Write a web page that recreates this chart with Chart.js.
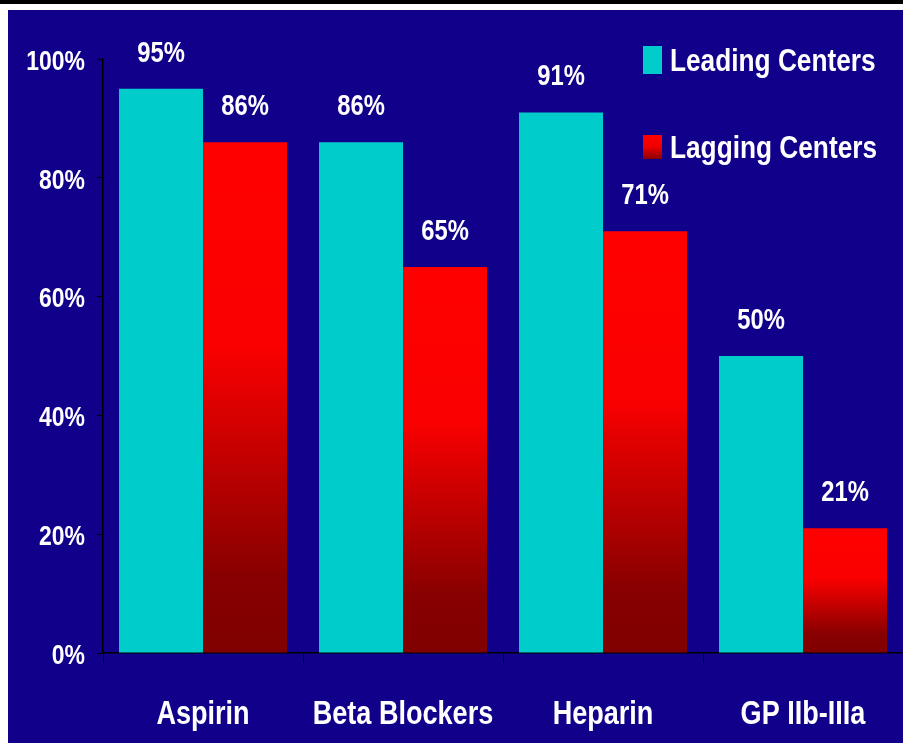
<!DOCTYPE html>
<html>
<head>
<meta charset="utf-8">
<script src="https://cdn.jsdelivr.net/npm/chart.js@4"></script>
<style>
  html, body { margin: 0; padding: 0; background: #fff; }
  body { width: 903px; height: 746px; position: relative; overflow: hidden; }
  .topbar { position: absolute; left: 0; top: 0; width: 903px; height: 4px; background: #000; }
  .wrap { position: absolute; left: 8px; top: 10px; width: 895px; height: 733px; background: #10008a; }
</style>
</head>
<body>
<div class="topbar"></div>
<div class="wrap"><canvas id="chart" width="895" height="733"></canvas></div>
<script>
const categories = ["Aspirin", "Beta Blockers", "Heparin", "GP IIb-IIIa"];
const leading = [95, 86, 91, 50];
const lagging = [86, 65, 71, 21];
const yTicks = [0, 20, 40, 60, 80, 100];

const FONT = "'Liberation Sans', Arial, sans-serif";
const SQUEEZE = 0.82; // no narrow font installed, so squeeze bold sans horizontally
const CYAN = "#00cccc";

// white bold narrow-looking text
function narrowText(ctx, text, x, y, size, align) {
  ctx.save();
  ctx.font = "bold " + size + "px " + FONT;
  ctx.fillStyle = "#fff";
  ctx.textBaseline = "middle";
  ctx.textAlign = align;
  ctx.translate(x, y);
  ctx.scale(SQUEEZE, 1);
  ctx.fillText(text, 0, 0);
  ctx.restore();
}

// red bars fade from bright red at the top to dark red at the bottom
function redFill(ctx) {
  const chart = ctx.chart;
  const y = chart.scales.y;
  if (!y || ctx.type !== "data") return "#ff0000";
  const top = y.getPixelForValue(ctx.raw);
  const bottom = y.getPixelForValue(0);
  if (!isFinite(top) || !isFinite(bottom) || top === bottom) return "#ff0000";
  const g = chart.ctx.createLinearGradient(0, top, 0, bottom);
  g.addColorStop(0, "#ff0000");
  g.addColorStop(0.4, "#fa0000");
  g.addColorStop(0.85, "#880000");
  g.addColorStop(1, "#800000");
  return g;
}

const textLayer = {
  id: "textLayer",
  afterDraw(chart) {
    const ctx = chart.ctx;
    const xs = chart.scales.x, ys = chart.scales.y;

    // tick labels
    ys.ticks.forEach((t, i) => {
      narrowText(ctx, t.value + "%", ys.right - 18, ys.getPixelForTick(i) + 3, 28, "right");
    });
    xs.ticks.forEach((t, i) => {
      narrowText(ctx, categories[i], xs.getPixelForTick(i), xs.top + 62, 33, "center");
    });

    // values above bars
    chart.data.datasets.forEach((ds, i) => {
      chart.getDatasetMeta(i).data.forEach((bar, j) => {
        narrowText(ctx, ds.data[j] + "%", bar.x, bar.y - 35, 29, "center");
      });
    });

    // legend at top right
    const rows = [
      { label: chart.data.datasets[0].label, y: 50, h: 28, red: false },
      { label: chart.data.datasets[1].label, y: 137, h: 24, red: true }
    ];
    rows.forEach(r => {
      ctx.save();
      if (r.red) {
        const g = ctx.createLinearGradient(0, r.y - r.h / 2, 0, r.y + r.h / 2);
        g.addColorStop(0, "#ff0000");
        g.addColorStop(0.5, "#ee0000");
        g.addColorStop(1, "#880000");
        ctx.fillStyle = g;
      } else {
        ctx.fillStyle = CYAN;
      }
      ctx.fillRect(635, r.y - r.h / 2, 19, r.h);
      ctx.restore();
      narrowText(ctx, r.label, 662, r.y + 2, 32, "left");
    });
  }
};

new Chart(document.getElementById("chart"), {
  type: "bar",
  data: {
    labels: categories,
    datasets: [
      { label: "Leading Centers", data: leading, backgroundColor: CYAN },
      { label: "Lagging Centers", data: lagging, backgroundColor: redFill }
    ]
  },
  options: {
    responsive: false,
    animation: false,
    layout: { padding: { top: 49, right: 0, left: 0, bottom: 0 } },
    datasets: { bar: { categoryPercentage: 0.84, barPercentage: 1 } },
    plugins: {
      legend: { display: false },
      tooltip: { enabled: false }
    },
    scales: {
      x: {
        grid: { offset: true, drawOnChartArea: false, color: "#000", tickLength: 10 },
        border: { color: "#000", width: 1.5 },
        ticks: { color: "rgba(0,0,0,0)", maxRotation: 0, autoSkip: false, font: { size: 12 } },
        afterFit(scale) { scale.height = 90; }
      },
      y: {
        min: 0,
        max: 100,
        afterBuildTicks(scale) { scale.ticks = yTicks.map(v => ({ value: v })); },
        grid: { drawOnChartArea: false, color: "#000", tickLength: 6 },
        border: { color: "#000", width: 1.5 },
        ticks: { color: "rgba(0,0,0,0)", font: { size: 12 }, callback: v => v + "%" },
        afterFit(scale) { scale.width = 95; }
      }
    }
  },
  plugins: [textLayer]
});
</script>
</body>
</html>
